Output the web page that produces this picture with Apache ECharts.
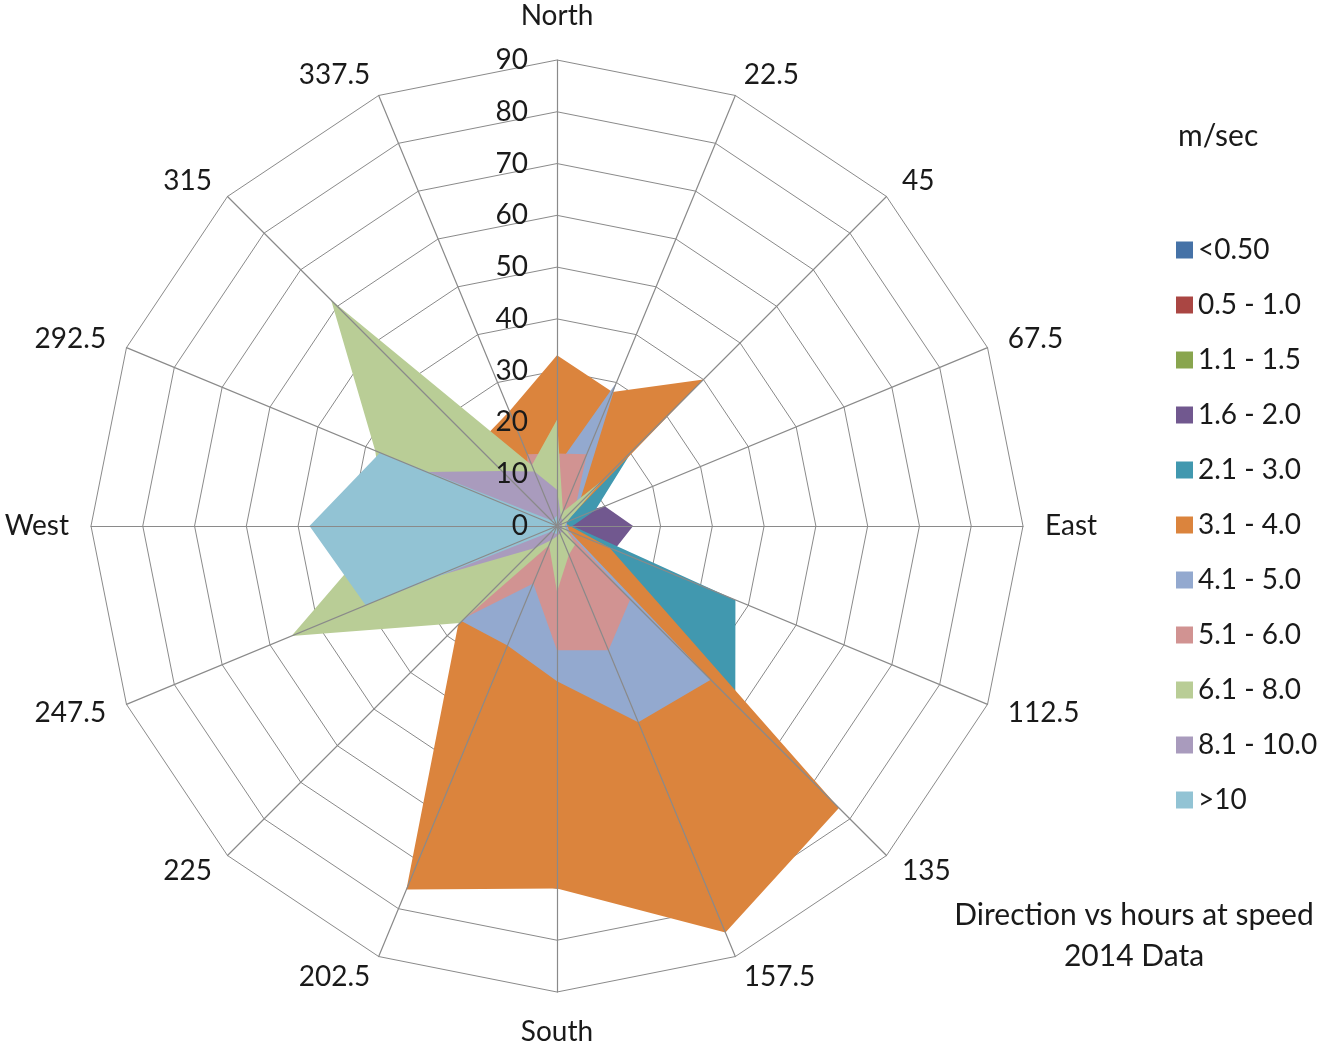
<!DOCTYPE html>
<html>
<head>
<meta charset="utf-8">
<script src="https://cdn.jsdelivr.net/npm/echarts@6/dist/echarts.min.js"></script>
<style>
  html, body { margin: 0; padding: 0; background: #fff; }
  #chart { width: 1336px; height: 1047px; }
</style>
</head>
<body>
<div id="chart"></div>
<script>
// wind directions, clockwise from north
const directions = ['North', '22.5', '45', '67.5', 'East', '112.5', '135', '157.5',
  'South', '202.5', '225', '247.5', 'West', '292.5', '315', '337.5']

// speed bands (m/sec), legend order
const speedBands = ['<0.50', '0.5 - 1.0', '1.1 - 1.5', '1.6 - 2.0', '2.1 - 3.0', '3.1 - 4.0',
  '4.1 - 5.0', '5.1 - 6.0', '6.1 - 8.0', '8.1 - 10.0', '>10']

// hours per direction (same order as directions)
const hoursBelow05 = [0.5, 0.3, 0.4, 0.6, 0.8, 0.7, 0.9, 0.6, 0.5, 0.4, 0.6, 0.8, 1.0, 0.7, 0.5, 0.4]
const hours05to10 = [0.8, 0.6, 0.7, 0.9, 1.1, 1.0, 1.2, 0.9, 0.8, 0.6, 0.8, 1.0, 1.2, 0.9, 0.7, 0.6]
const hours11to15 = [1.0, 0.8, 1.2, 1.3, 1.4, 1.3, 1.5, 1.2, 1.1, 0.9, 1.0, 1.2, 1.4, 1.1, 0.9, 0.8]
const hours16to20 = [1.0, 1.5, 3.0, 10.0, 14.7, 12.0, 4.0, 2.0, 1.5, 1.0, 1.0, 1.5, 2.0, 1.5, 1.0, 1.0]
const hours21to30 = [2.0, 3.0, 20.5, 8.0, 3.0, 37.3, 48.7, 15.0, 3.0, 2.0, 2.0, 2.0, 2.5, 2.0, 1.5, 1.5]
const hours31to40 = [33.0, 28.0, 40.0, 1.6, 2.5, 11.0, 77.0, 85.0, 70.0, 76.0, 27.0, 12.0, 10.0, 14.0, 22.0, 24.0]
const hours41to50 = [11.5, 30.0, 6.0, 2.0, 2.0, 2.6, 42.0, 41.0, 30.0, 25.0, 26.0, 8.0, 6.0, 5.0, 6.0, 9.0]
const hours51to60 = [14.0, 15.0, 5.0, 1.5, 1.5, 2.0, 20.0, 26.0, 24.0, 12.0, 25.0, 10.0, 8.0, 7.0, 8.0, 15.0]
const hours61to80 = [20.5, 3.0, 12.7, 2.0, 1.5, 2.0, 5.0, 6.0, 12.7, 4.0, 26.5, 55.5, 33.0, 38.0, 61.7, 12.7]
const hours81to100 = [7.0, 2.0, 1.5, 1.0, 1.0, 1.0, 1.5, 1.5, 2.0, 3.0, 6.0, 26.0, 25.0, 27.3, 15.0, 11.4]
const hoursAbove10 = [2.0, 1.0, 1.0, 0.5, 0.5, 0.5, 1.0, 1.0, 1.5, 1.5, 1.5, 40.0, 47.8, 37.0, 1.5, 1.5]

const bandData = [hoursBelow05, hours05to10, hours11to15, hours16to20, hours21to30, hours31to40,
  hours41to50, hours51to60, hours61to80, hours81to100, hoursAbove10]

const bandColors = ['#4572A7', '#AA4643', '#89A54E', '#71588F', '#4198AF', '#DB843D',
  '#93A9CF', '#D19392', '#B9CD96', '#A99BBD', '#92C3D4']

const maxHours = 90
const fontName = 'Lato'

// echarts places radar indicators counter-clockwise, so flip the order
function toCcw(arr) {
  return [arr[0]].concat(arr.slice(1).reverse())
}

// grid radar: plain indicators
const gridIndicators = toCcw(directions).map(function(d) {
  return { name: d, max: maxHours, min: 0 }
})

// overlay radar: spokes, names and the tick labels on the north axis only
const axisIndicators = toCcw(directions).map(function(d) {
  const ind = { name: d, max: maxHours, min: 0 }
  if (d === 'North') {
    ind.nameGap = 30
    ind.axisLabel = { show: true }
  } else if (d === 'South') {
    ind.nameGap = 26
  }
  return ind
})

const radarCommon = {
  center: [557, 526],
  radius: 466,
  startAngle: 90,
  shape: 'polygon',
  splitNumber: 9
}

const series = speedBands.map(function(band, i) {
  return {
    type: 'radar',
    name: band,
    radarIndex: 0,
    symbol: 'none',
    silent: true,
    itemStyle: { color: bandColors[i] },
    lineStyle: { width: 0 },
    areaStyle: { color: bandColors[i], opacity: 1 },
    data: [{ name: band, value: toCcw(bandData[i]) }]
  }
})

const myChart = echarts.init(document.getElementById('chart'))
const option = {
  backgroundColor: '#fff',
  animation: false,
  textStyle: { fontFamily: fontName },
  title: [
    {
      text: 'm/sec',
      left: 1178,
      top: 121,
      padding: 0,
      textStyle: { fontFamily: fontName, fontSize: 30, fontWeight: 'normal', color: '#1a1a1a' }
    },
    {
      text: 'Direction vs hours at speed\n2014 Data',
      left: 1134,
      top: 895,
      padding: 0,
      textAlign: 'center',
      textStyle: { fontFamily: fontName, fontSize: 30, fontWeight: 'normal', color: '#1a1a1a', lineHeight: 41 }
    }
  ],
  legend: {
    orient: 'vertical',
    left: 1176,
    top: 236,
    padding: 0,
    itemWidth: 17,
    itemHeight: 17,
    itemGap: 27,
    icon: 'rect',
    selectedMode: false,
    data: speedBands,
    textStyle: { fontFamily: fontName, fontSize: 28, color: '#1a1a1a', lineHeight: 28 }
  },
  radar: [
    Object.assign({}, radarCommon, {
      z: 0,
      indicator: gridIndicators,
      axisName: { show: false },
      axisLine: { show: false },
      axisTick: { show: false },
      axisLabel: { show: false },
      splitArea: { show: false },
      splitLine: { lineStyle: { color: '#8a8a8a', width: 1 } }
    }),
    Object.assign({}, radarCommon, {
      z: 5,
      indicator: axisIndicators,
      nameGap: 22,
      axisName: { color: '#1a1a1a', fontFamily: fontName, fontSize: 28 },
      axisLine: { show: true, lineStyle: { color: '#8a8a8a', width: 1.2 } },
      axisTick: { show: false },
      axisLabel: { show: false, margin: 29, color: '#1a1a1a', fontFamily: fontName, fontSize: 28 },
      splitArea: { show: false },
      splitLine: { show: false }
    })
  ],
  series: series
}
myChart.setOption(option)
</script>
</body>
</html>
